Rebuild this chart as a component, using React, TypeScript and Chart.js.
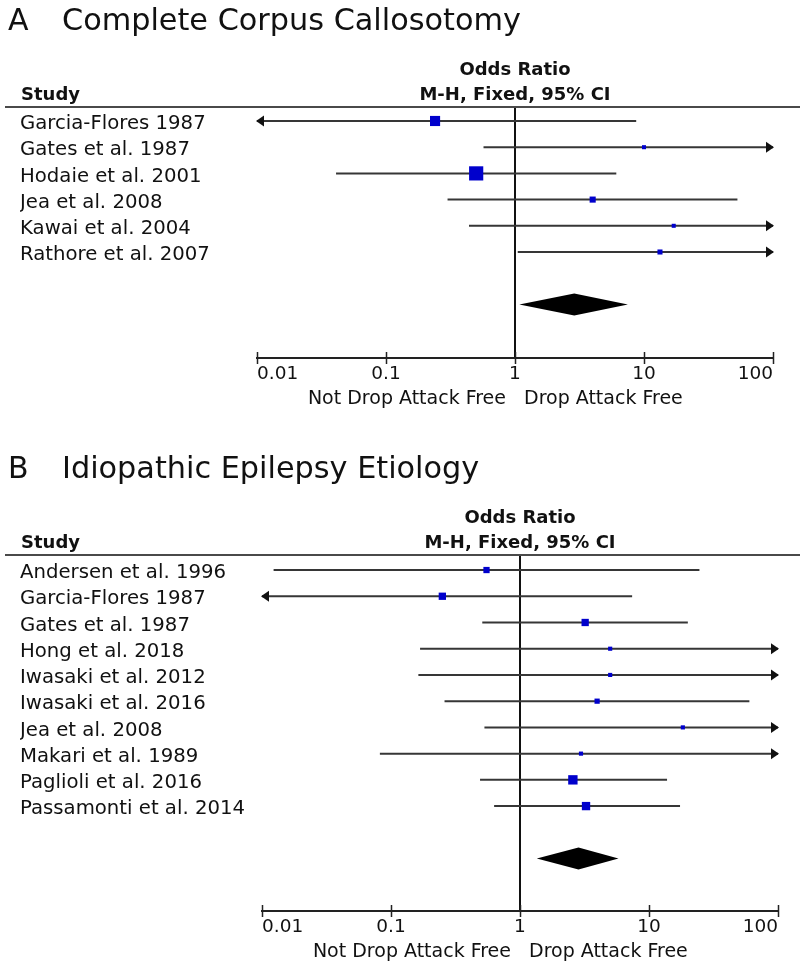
import React, { useEffect, useRef } from 'react';
import { Chart, registerables } from 'chart.js';

Chart.register(...registerables);

// ---------- Panel A: Complete Corpus Callosotomy ----------
const A_STUDIES = [
  'Garcia-Flores 1987',
  'Gates et al. 1987',
  'Hodaie et al. 2001',
  'Jea et al. 2008',
  'Kawai et al. 2004',
  'Rathore et al. 2007',
];
const A_OR = [0.24, 10, 0.5, 4.0, 17, 13.3];
const A_LOWER = [0.0066, 0.57, 0.041, 0.3, 0.44, 1.05];
const A_UPPER = [8.7, 175, 6.1, 53, 660, 166];
const A_WEIGHT = [25.7, 4.1, 50.4, 9.3, 4.1, 6.4];
const A_TOTAL = [1.08, 2.88, 7.5]; // lower, OR, upper

// ---------- Panel B: Idiopathic Epilepsy Etiology ----------
const B_STUDIES = [
  'Andersen et al. 1996',
  'Garcia-Flores 1987',
  'Gates et al. 1987',
  'Hong et al. 2018',
  'Iwasaki et al. 2012',
  'Iwasaki et al. 2016',
  'Jea et al. 2008',
  'Makari et al. 1989',
  'Paglioli et al. 2016',
  'Passamonti et al. 2014',
];
const B_OR = [0.55, 0.25, 3.2, 5.0, 5.0, 3.96, 18.3, 2.97, 2.57, 3.25];
const B_LOWER = [0.0123, 0.0085, 0.51, 0.168, 0.163, 0.26, 0.53, 0.082, 0.49, 0.63];
const B_UPPER = [24.6, 7.4, 20, 148, 153, 60, 630, 107, 13.8, 17.4];
const B_WEIGHT = [9.8, 13.3, 13.3, 4.3, 4.3, 6.8, 4.3, 4.3, 22.0, 17.4];
const B_TOTAL = [1.35, 2.84, 5.8];

// ---------- Axis ----------
const TICK_VALUES = [0.01, 0.1, 1, 10, 100];
const TICK_LABELS = ['0.01', '0.1', '1', '10', '100'];
const LEFT_LABEL = 'Not Drop Attack Free';
const RIGHT_LABEL = 'Drop Attack Free';
const HEADER_1 = 'Odds Ratio';
const HEADER_2 = 'M-H, Fixed, 95% CI';
const STUDY_HEADER = 'Study';

const FONT = '"DejaVu Sans", Verdana, sans-serif';
const INK = '#111111';
const LINE = '#363636';
const BOX = '#0000CC';

type Panel = {
  letter: string;
  title: string;
  studies: string[];
  or: number[];
  lower: number[];
  upper: number[];
  weight: number[];
  total: number[];
  height: number;
  top: number;
  chartTop: number;
  chartBottom: number;
  chartLeft: number;
  chartRight: number;
  yMin: number;
  yMax: number;
};

const PANEL_A: Panel = {
  letter: 'A',
  title: 'Complete Corpus Callosotomy',
  studies: A_STUDIES,
  or: A_OR,
  lower: A_LOWER,
  upper: A_UPPER,
  weight: A_WEIGHT,
  total: A_TOTAL,
  height: 440,
  top: 0,
  chartTop: 107,
  chartBottom: 358,
  chartLeft: 257,
  chartRight: 773,
  yMin: -0.534,
  yMax: 9.046,
};

const PANEL_B: Panel = {
  letter: 'B',
  title: 'Idiopathic Epilepsy Etiology',
  studies: B_STUDIES,
  or: B_OR,
  lower: B_LOWER,
  upper: B_UPPER,
  weight: B_WEIGHT,
  total: B_TOTAL,
  height: 526,
  top: 440,
  chartTop: 115,
  chartBottom: 471,
  chartLeft: 262,
  chartRight: 778,
  yMin: -0.573,
  yMax: 13.0,
};

// side length (px) of a study box from its weight (%)
function boxSide(w: number) {
  return 2.0 * Math.sqrt(w);
}

function makePlugin(p: Panel) {
  return {
    id: 'forestDecor' + p.letter,
    afterDraw(chart: any) {
      const { ctx, chartArea: ca } = chart;
      const x = chart.scales.x;
      const y = chart.scales.y;
      ctx.save();

      // header rule
      ctx.strokeStyle = '#4a4a4a';
      ctx.lineWidth = 2;
      ctx.beginPath();
      ctx.moveTo(5, ca.top);
      ctx.lineTo(800, ca.top);
      ctx.stroke();

      // axis tick marks crossing the axis
      ctx.strokeStyle = '#222';
      ctx.lineWidth = 1.5;
      ctx.beginPath();
      TICK_VALUES.forEach((v) => {
        const px = Math.round(x.getPixelForValue(v)) + 0.5;
        ctx.moveTo(px, ca.bottom - 6);
        ctx.lineTo(px, ca.bottom + 6);
      });
      ctx.stroke();

      // arrows for clipped confidence intervals
      ctx.fillStyle = '#111';
      p.studies.forEach((_, i) => {
        const py = y.getPixelForValue(i);
        if (p.upper[i] > x.max) {
          const tip = ca.right + 1;
          ctx.beginPath();
          ctx.moveTo(tip, py);
          ctx.lineTo(tip - 8, py - 5.5);
          ctx.lineTo(tip - 8, py + 5.5);
          ctx.closePath();
          ctx.fill();
        }
        if (p.lower[i] < x.min) {
          const tip = ca.left - 1;
          ctx.beginPath();
          ctx.moveTo(tip, py);
          ctx.lineTo(tip + 8, py - 5.5);
          ctx.lineTo(tip + 8, py + 5.5);
          ctx.closePath();
          ctx.fill();
        }
      });

      // pooled estimate diamond
      const dy = y.getPixelForValue(p.studies.length + 1);
      const xl = x.getPixelForValue(p.total[0]);
      const xc = x.getPixelForValue(p.total[1]);
      const xr = x.getPixelForValue(p.total[2]);
      ctx.fillStyle = '#000';
      ctx.beginPath();
      ctx.moveTo(xl, dy);
      ctx.lineTo(xc, dy - 11);
      ctx.lineTo(xr, dy);
      ctx.lineTo(xc, dy + 11);
      ctx.closePath();
      ctx.fill();

      // texts
      ctx.fillStyle = INK;
      ctx.textBaseline = 'alphabetic';
      ctx.textAlign = 'left';
      ctx.font = `30px ${FONT}`;
      ctx.fillText(p.letter, 8, ca.top - 77);
      ctx.font = `30.3px ${FONT}`;
      ctx.fillText(p.title, 62, ca.top - 77);

      ctx.font = `bold 18px ${FONT}`;
      ctx.fillText(STUDY_HEADER, 21, ca.top - 7);
      ctx.textAlign = 'center';
      const cx = (ca.left + ca.right) / 2;
      ctx.fillText(HEADER_1, cx, ca.top - 32);
      ctx.fillText(HEADER_2, cx, ca.top - 7);

      ctx.font = `19px ${FONT}`;
      const one = x.getPixelForValue(1);
      ctx.textAlign = 'right';
      ctx.fillText(LEFT_LABEL, one - 9, ca.bottom + 46);
      ctx.textAlign = 'left';
      ctx.fillText(RIGHT_LABEL, one + 9, ca.bottom + 46);

      ctx.restore();
    },
  };
}

function buildConfig(p: Panel): any {
  const datasets: any[] = [];
  datasets.push({
    label: 'Odds ratio',
    data: p.or.map((v, i) => ({ x: v, y: i })),
    pointStyle: 'rect',
    // Chart.js 'rect' side = 2 * radius * SQRT1_2
    pointRadius: p.weight.map((w) => boxSide(w) / Math.SQRT2),
    backgroundColor: BOX,
    borderColor: BOX,
    borderWidth: 0,
    pointBorderWidth: 0,
    order: 0,
  });
  p.studies.forEach((s, i) => {
    datasets.push({
      label: s,
      data: [
        { x: p.lower[i], y: i },
        { x: p.upper[i], y: i },
      ],
      showLine: true,
      borderColor: LINE,
      borderWidth: 2,
      pointRadius: 0,
      order: 1,
    });
  });

  return {
    type: 'scatter',
    data: { datasets },
    options: {
      animation: false,
      responsive: false,
      devicePixelRatio: 1,
      events: [],
      layout: {
        padding: {
          left: 20,
          right: 800 - p.chartRight,
          top: p.chartTop,
          bottom: p.height - p.chartBottom - 30,
        },
      },
      plugins: {
        legend: { display: false },
        tooltip: { enabled: false },
        title: { display: false },
      },
      scales: {
        x: {
          type: 'logarithmic',
          min: 0.01,
          max: 100,
          afterBuildTicks: (s: any) => {
            s.ticks = TICK_VALUES.map((v) => ({ value: v }));
          },
          afterFit: (s: any) => {
            s.height = 30;
          },
          ticks: {
            callback: (_v: any, i: number) => TICK_LABELS[i],
            align: 'inner',
            maxRotation: 0,
            autoSkip: false,
            padding: 5,
            color: INK,
            font: { family: FONT, size: 18.5 },
          },
          grid: {
            display: true,
            drawOnChartArea: true,
            drawTicks: false,
            lineWidth: 2,
            color: (c: any) => (c.tick && c.tick.value === 1 ? '#111' : 'rgba(0,0,0,0)'),
          },
          border: { display: true, color: '#222', width: 2 },
        },
        y: {
          type: 'linear',
          reverse: true,
          min: p.yMin,
          max: p.yMax,
          afterBuildTicks: (s: any) => {
            s.ticks = p.studies.map((_, i) => ({ value: i }));
          },
          afterFit: (s: any) => {
            s.width = p.chartLeft - 20;
          },
          ticks: {
            callback: (_v: any, i: number) => p.studies[i],
            crossAlign: 'far',
            autoSkip: false,
            labelOffset: 3,
            color: INK,
            font: { family: FONT, size: 19.7 },
          },
          grid: { display: false },
          border: { display: false },
        },
      },
    },
    plugins: [makePlugin(p)],
  };
}

function ForestPanel({ panel }: { panel: Panel }) {
  const ref = useRef<HTMLCanvasElement | null>(null);
  useEffect(() => {
    if (!ref.current) return;
    const chart = new Chart(ref.current, buildConfig(panel));
    return () => chart.destroy();
  }, [panel]);
  return (
    <canvas
      ref={ref}
      width={800}
      height={panel.height}
      style={{ position: 'absolute', left: 0, top: panel.top, width: 800, height: panel.height }}
    />
  );
}

export default function App() {
  return (
    <div
      style={{
        position: 'absolute',
        left: 0,
        top: 0,
        width: 800,
        height: 966,
        background: '#ffffff',
        overflow: 'hidden',
      }}
    >
      <ForestPanel panel={PANEL_A} />
      <ForestPanel panel={PANEL_B} />
    </div>
  );
}
